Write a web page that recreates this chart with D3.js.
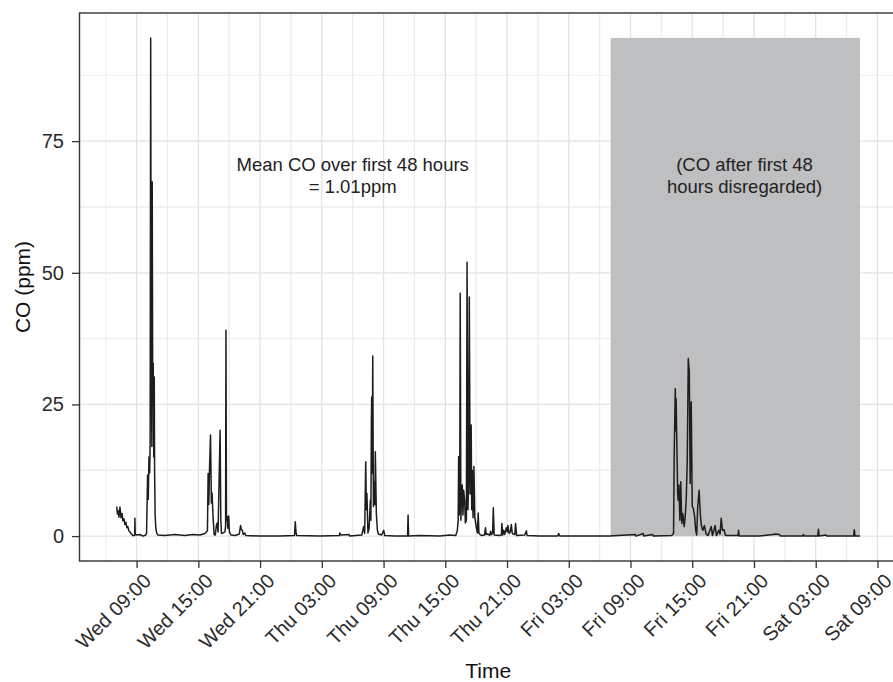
<!DOCTYPE html>
<html>
<head>
<meta charset="utf-8">
<script src="https://cdn.jsdelivr.net/npm/d3@7"></script>
<style>
  body { margin: 0; background: #fff; }
  text { font-family: "Liberation Sans", Arial, Helvetica, sans-serif; }
</style>
</head>
<body>
<div id="chart"></div>
<script>
// CO trace: minutes since Wed 00:00 and CO (ppm)
var coMinutes = [
  424, 428, 433, 437, 443, 449, 455, 460, 466, 472, 478, 483, 489, 495, 501, 510, 518, 527, 529, 530,
  532, 542, 559, 577, 594, 598, 604, 608, 612, 616, 619, 622, 625, 629, 631, 634, 637, 640, 643, 645,
  648, 652, 657, 664, 705, 763, 821, 868, 909, 938, 953, 957, 961, 965, 971, 976, 980, 986, 992, 999,
  1005, 1010, 1015, 1021, 1027, 1031, 1035, 1043, 1055, 1059, 1061, 1064, 1068, 1072, 1077, 1081, 1090, 1113, 1139, 1146,
  1152, 1157, 1162, 1171, 1177, 1258, 1375, 1461, 1465, 1470, 1474, 1608, 1722, 1725, 1731, 1779, 1783, 1853, 1864, 1870,
  1876, 1880, 1883, 1889, 1896, 1903, 1906, 1909, 1911, 1914, 1917, 1921, 1927, 1930, 1932, 1938, 1944, 1950, 1969, 1981,
  1987, 2045, 2120, 2123, 2126, 2191, 2307, 2366, 2401, 2410, 2415, 2418, 2421, 2424, 2427, 2431, 2435, 2439, 2443, 2447,
  2453, 2457, 2463, 2467, 2472, 2476, 2480, 2485, 2491, 2494, 2497, 2502, 2507, 2512, 2520, 2527, 2532, 2536, 2540, 2552,
  2569, 2574, 2579, 2589, 2599, 2604, 2610, 2616, 2620, 2625, 2657, 2667, 2670, 2675, 2680, 2686, 2696, 2701, 2705, 2712,
  2719, 2725, 2730, 2735, 2745, 2750, 2756, 2803, 2813, 2817, 2890, 2995, 3001, 3007, 3123, 3298, 3448, 3452, 3494, 3498,
  3550, 3554, 3660, 3671, 3675, 3681, 3684, 3686, 3692, 3695, 3698, 3702, 3708, 3713, 3719, 3725, 3733, 3739, 3745, 3751,
  3757, 3763, 3768, 3774, 3780, 3786, 3794, 3800, 3806, 3812, 3820, 3828, 3834, 3842, 3851, 3861, 3872, 3891, 3898, 3914,
  3921, 3935, 3942, 3949, 3956, 3966, 3974, 3997, 4047, 4050, 4054, 4172, 4248, 4266, 4289, 4294, 4425, 4428, 4434, 4512,
  4516, 4520, 4561, 4565, 4721, 4725, 4729, 4758
];
var coValues = [
  5.6, 4.2, 4.8, 3.6, 5.5, 3.5, 4.3, 2.9, 3.3, 2.2, 2.6, 1.6, 1.8, 1.0, 0.8, 0.4, 0.1, 0.1, 0.3, 3.4,
  0.3, 0.2, 0.3, 0.0, 0.2, 0.5, 11.6, 7.0, 15.0, 12.0, 18.0, 94.6, 40.0, 17.0, 67.3, 25.0, 32.8, 15.0, 30.2, 12.0,
  4.0, 1.5, 0.6, 0.2, 0.1, 0.3, 0.1, 0.3, 0.2, 0.5, 1.0, 11.9, 6.0, 12.5, 19.2, 6.3, 8.2, 3.6, 0.3, 0.2,
  2.0, 2.5, 0.8, 10.5, 20.1, 3.0, 0.5, 0.6, 0.8, 2.0, 39.1, 3.0, 3.7, 1.5, 3.8, 0.8, 0.2, 0.1, 0.4, 2.0,
  1.2, 1.1, 0.3, 0.6, 0.1, 0.0, 0.0, 0.1, 2.7, 0.6, 0.1, 0.0, 0.1, 0.6, 0.2, 0.3, 0.0, 0.2, 1.8, 0.5,
  14.1, 5.0, 8.1, 0.6, 1.5, 6.8, 3.0, 21.7, 26.4, 12.0, 34.2, 5.6, 10.3, 6.0, 16.0, 4.3, 1.1, 0.4, 0.2, 1.1,
  0.1, 0.0, 0.0, 4.0, 0.0, 0.1, 0.0, 0.2, 0.1, 1.0, 3.0, 15.1, 4.0, 5.3, 46.1, 3.0, 9.2, 9.7, 4.0, 8.7,
  6.8, 2.5, 3.0, 52.0, 5.0, 10.0, 45.4, 8.0, 21.1, 5.0, 12.5, 3.5, 13.2, 3.7, 1.8, 0.6, 4.4, 0.6, 0.4, 0.1,
  0.2, 1.6, 0.3, 0.4, 0.1, 0.9, 0.3, 0.6, 5.4, 0.2, 0.1, 0.2, 2.4, 0.2, 1.1, 0.3, 1.6, 0.8, 2.0, 0.5,
  0.8, 2.2, 0.6, 0.4, 0.3, 2.4, 0.1, 0.2, 1.0, 0.1, 0.0, 0.0, 0.5, 0.0, 0.0, 0.0, 0.3, 0.0, 0.5, 0.0,
  0.3, 0.0, 0.1, 0.5, 15.7, 28.0, 20.0, 26.1, 14.1, 8.0, 6.8, 9.7, 3.0, 10.3, 2.4, 4.3, 1.8, 3.7, 7.1, 14.4,
  33.7, 31.2, 10.0, 25.5, 5.6, 5.3, 3.7, 1.1, 0.2, 5.6, 8.7, 3.7, 1.8, 1.1, 2.0, 0.4, 0.1, 1.8, 0.1, 2.0,
  0.1, 1.1, 0.4, 3.4, 1.1, 1.2, 0.1, 0.1, 0.1, 1.1, 0.0, 0.0, 0.3, 0.4, 0.3, 0.0, 0.0, 0.3, 0.0, 0.0,
  1.3, 0.0, 0.2, 0.0, 0.0, 1.2, 0.0, 0.0
];

var xTickLabels = ["Wed 09:00", "Wed 15:00", "Wed 21:00", "Thu 03:00", "Thu 09:00", "Thu 15:00",
  "Thu 21:00", "Fri 03:00", "Fri 09:00", "Fri 15:00", "Fri 21:00", "Sat 03:00", "Sat 09:00"];
var yTicks = [0, 25, 50, 75];

var noteLeft = ["Mean CO over first 48 hours", "= 1.01ppm"];
var noteRight = ["(CO after first 48", "hours disregarded)"];

// Define SVG area dimensions
var svgWidth = 893;
var svgHeight = 682;

var margin = { top: 13, right: -4, bottom: 121, left: 79.5 };
var chartWidth = svgWidth - margin.left - margin.right;
var chartHeight = svgHeight - margin.top - margin.bottom;

// Wednesday midnight as the reference day
var baseDate = new Date(2019, 0, 2);
var dayIndex = { Wed: 0, Thu: 1, Fri: 2, Sat: 3 };
function toDate(m) { return d3.timeMinute.offset(baseDate, m); }
function labelToDate(s) {
  var parts = s.split(" ");
  var hm = parts[1].split(":");
  return toDate(dayIndex[parts[0]] * 1440 + (+hm[0]) * 60 + (+hm[1]));
}

var coData = coMinutes.map(function(m, i) {
  return { time: toDate(m), co: coValues[i] };
});

var svg = d3.select("#chart")
  .append("svg")
  .attr("width", svgWidth)
  .attr("height", svgHeight);

var chartGroup = svg.append("g")
  .attr("transform", `translate(${margin.left}, ${margin.top})`);

// scales with ggplot-like 5% expansion
var tMin = d3.min(coMinutes), tMax = d3.max(coMinutes);
var tPad = (tMax - tMin) * 0.05;
var xScale = d3.scaleTime()
  .domain([toDate(tMin - tPad), toDate(tMax + tPad)])
  .range([0, chartWidth]);

var coMax = d3.max(coValues);
var yScale = d3.scaleLinear()
  .domain([-coMax * 0.05, coMax * 1.05])
  .range([chartHeight, 0]);

var xTickDates = xTickLabels.map(labelToDate);
var xMinor = [];
xTickDates.forEach(function(d) {
  xMinor.push(d3.timeHour.offset(d, -3));
  xMinor.push(d3.timeHour.offset(d, 3));
});
xMinor = xMinor.filter(function(d) {
  return d >= xScale.domain()[0] && d <= xScale.domain()[1];
});
var yMinor = [];
yTicks.forEach(function(v) { yMinor.push(v - 12.5, v + 12.5); });
yMinor = yMinor.filter(function(v) { return v >= yScale.domain()[0] && v <= yScale.domain()[1]; });

// grid
var grid = chartGroup.append("g");
grid.selectAll(".vminor").data(xMinor).enter().append("line")
  .attr("x1", d => xScale(d)).attr("x2", d => xScale(d))
  .attr("y1", 0).attr("y2", chartHeight)
  .attr("stroke", "#ebebeb").attr("stroke-width", 0.8);
grid.selectAll(".hminor").data(yMinor).enter().append("line")
  .attr("x1", 0).attr("x2", chartWidth)
  .attr("y1", d => yScale(d)).attr("y2", d => yScale(d))
  .attr("stroke", "#ebebeb").attr("stroke-width", 0.8);
grid.selectAll(".vmajor").data(xTickDates).enter().append("line")
  .attr("x1", d => xScale(d)).attr("x2", d => xScale(d))
  .attr("y1", 0).attr("y2", chartHeight)
  .attr("stroke", "#e3e3e3").attr("stroke-width", 1.3);
grid.selectAll(".hmajor").data(yTicks).enter().append("line")
  .attr("x1", 0).attr("x2", chartWidth)
  .attr("y1", d => yScale(d)).attr("y2", d => yScale(d))
  .attr("stroke", "#e3e3e3").attr("stroke-width", 1.3);

// shaded region: after the first 48 hours
chartGroup.append("rect")
  .attr("x", xScale(toDate(tMin + 48 * 60)))
  .attr("width", xScale(toDate(tMax)) - xScale(toDate(tMin + 48 * 60)))
  .attr("y", yScale(coMax))
  .attr("height", yScale(0) - yScale(coMax))
  .attr("fill", "#bebfc1");

// annotations
function addNote(lines, minute, value) {
  var t = chartGroup.append("text")
    .attr("x", xScale(toDate(minute)))
    .attr("y", yScale(value))
    .attr("text-anchor", "middle")
    .style("font-size", "18.5px")
    .attr("fill", "#222");
  lines.forEach(function(s, i) {
    t.append("tspan")
      .attr("x", xScale(toDate(minute)))
      .attr("dy", i === 0 ? "-0.4em" : "1.2em")
      .text(s);
  });
}
addNote(noteLeft, 1800, 68);
addNote(noteRight, 4085, 68);

// CO line
var line = d3.line()
  .x(d => xScale(d.time))
  .y(d => yScale(d.co));
chartGroup.append("path")
  .datum(coData)
  .attr("d", line)
  .attr("fill", "none")
  .attr("stroke", "#1f1c1d")
  .attr("stroke-width", 1.5)
  .attr("stroke-linejoin", "round");

// panel border
chartGroup.append("rect")
  .attr("x", 0).attr("y", 0)
  .attr("width", chartWidth).attr("height", chartHeight)
  .attr("fill", "none")
  .attr("stroke", "#333").attr("stroke-width", 1.4);

// axes
var bottomAxis = d3.axisBottom(xScale)
  .tickValues(xTickDates)
  .tickFormat((d, i) => xTickLabels[i])
  .tickSize(7);
var leftAxis = d3.axisLeft(yScale)
  .tickValues(yTicks)
  .tickSize(7.5)
  .tickPadding(8);

var xAxisG = chartGroup.append("g")
  .attr("transform", `translate(0, ${chartHeight})`)
  .call(bottomAxis);
xAxisG.select(".domain").remove();
xAxisG.selectAll(".tick line").attr("stroke", "#333").attr("stroke-width", 1.3);
xAxisG.selectAll(".tick text")
  .attr("x", null).attr("y", null)
  .attr("dy", "0.72em")
  .attr("text-anchor", "end")
  .attr("transform", "translate(5, 11) rotate(-45)")
  .attr("fill", "#2b2b2b")
  .style("font-size", "20px");

var yAxisG = chartGroup.append("g").call(leftAxis);
yAxisG.select(".domain").remove();
yAxisG.selectAll(".tick line").attr("stroke", "#333").attr("stroke-width", 1.3);
yAxisG.selectAll(".tick text")
  .attr("fill", "#2b2b2b")
  .style("font-size", "20px");

// axis titles
svg.append("text")
  .attr("transform", `translate(29.5, ${margin.top + chartHeight / 2}) rotate(-90)`)
  .attr("text-anchor", "middle")
  .style("font-size", "21px")
  .attr("fill", "#111")
  .text("CO (ppm)");

svg.append("text")
  .attr("x", margin.left + chartWidth / 2)
  .attr("y", 678)
  .attr("text-anchor", "middle")
  .style("font-size", "21px")
  .attr("fill", "#111")
  .text("Time");
</script>
</body>
</html>
